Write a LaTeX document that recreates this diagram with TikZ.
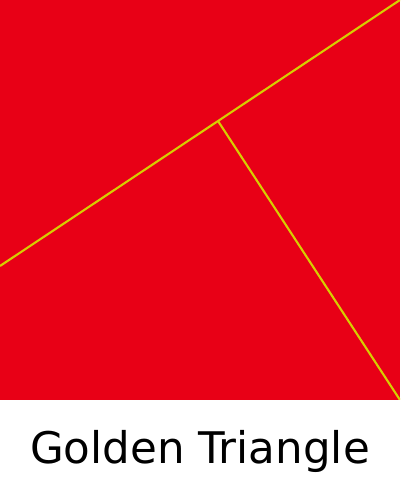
\documentclass[tikz,border=0pt]{standalone}
\usepackage{fontspec}
\setsansfont{DejaVu Sans}
\usetikzlibrary{calc}
\definecolor{paper}{RGB}{232,0,22}
\definecolor{creasec}{RGB}{214,206,0}

\begin{document}
\begin{tikzpicture}[
    crease/.style={draw=creasec, line width=0.6pt},
    caption/.style={font=\sffamily\fontsize{12.4}{15}\selectfont, text=black}]
  \useasboundingbox (0,0) rectangle (4,5);
  \fill[paper] (0,1) rectangle (4,5);
  \coordinate (edgeL) at (0,2.34);
  \coordinate (cornerTR) at (4,5);
  \coordinate (foot) at (2.18,3.79);
  \coordinate (cornerBR) at (4,1);
  \begin{scope}
    \clip (0,1) rectangle (4,5);
    \draw[crease] (edgeL) -- (cornerTR);
    \draw[crease] (foot) -- (cornerBR);
  \end{scope}
  \node[caption, anchor=base] (title) at (2,0.37) {Golden Triangle};
\end{tikzpicture}
\end{document}
